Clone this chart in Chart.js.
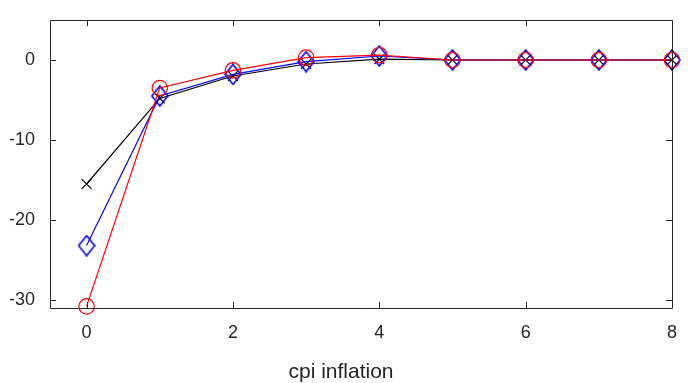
<!DOCTYPE html>
<html>
<head>
<meta charset="utf-8">
<script src="https://cdn.jsdelivr.net/npm/chart.js@4/dist/chart.umd.min.js"></script>
<style>
  html, body { margin: 0; padding: 0; background: #fff; }
  #wrap { width: 693px; height: 383px; }
</style>
</head>
<body>
<div id="wrap"><canvas id="chart" width="693" height="383"></canvas></div>
<script>
// Horizons and responses
const horizons = [0, 1, 2, 3, 4, 5, 6, 7, 8];
const blackCross = [-15.5, -4.8, -2.0, -0.5, 0.1, 0, 0, 0, 0];
const blueDiamond = [-23.2, -4.5, -1.8, -0.2, 0.5, 0, 0, 0, 0];
const redCircle = [-30.8, -3.5, -1.3, 0.3, 0.6, 0, 0, 0, 0];
const xTicks = [0, 2, 4, 6, 8];
const yTicks = [-30, -20, -10, 0];
const xLabel = 'cpi inflation';

const textColor = '#262626';
const axisColor = '#262626';

function toPoints(vals) {
  return horizons.map((h, i) => ({ x: h, y: vals[i] }));
}

// tall diamond marker, a bit narrower than high
function diamondMarker(w, h, color) {
  const c = document.createElement('canvas');
  c.width = w + 2;
  c.height = h + 2;
  const g = c.getContext('2d');
  g.strokeStyle = color;
  g.lineWidth = 1.6;
  g.beginPath();
  g.moveTo(c.width / 2, 1);
  g.lineTo(c.width - 1, c.height / 2);
  g.lineTo(c.width / 2, c.height - 1);
  g.lineTo(1, c.height / 2);
  g.closePath();
  g.stroke();
  return c;
}

// box around the plot with inward ticks on all four sides
const boxPlugin = {
  id: 'box',
  afterDatasetsDraw(chart) {
    const { ctx, chartArea: a, scales } = chart;
    const len = 6;
    ctx.save();
    ctx.strokeStyle = axisColor;
    ctx.lineWidth = 1;
    ctx.beginPath();
    ctx.rect(a.left + 0.5, a.top + 0.5, a.right - a.left, a.bottom - a.top);
    xTicks.forEach(v => {
      const px = Math.round(scales.x.getPixelForValue(v)) + 0.5;
      ctx.moveTo(px, a.bottom); ctx.lineTo(px, a.bottom - len);
      ctx.moveTo(px, a.top); ctx.lineTo(px, a.top + len);
    });
    yTicks.forEach(v => {
      const py = Math.round(scales.y.getPixelForValue(v)) + 0.5;
      ctx.moveTo(a.left, py); ctx.lineTo(a.left + len, py);
      ctx.moveTo(a.right, py); ctx.lineTo(a.right - len, py);
    });
    ctx.stroke();
    ctx.restore();
  }
};

new Chart(document.getElementById('chart'), {
  type: 'line',
  data: {
    datasets: [
      {
        data: toPoints(blackCross),
        borderColor: '#000',
        borderWidth: 1.2,
        pointStyle: 'crossRot',
        pointRadius: 7,
        pointBorderColor: '#000',
        pointBorderWidth: 1.2,
        tension: 0,
        order: 3
      },
      {
        data: toPoints(blueDiamond),
        borderColor: '#0000ff',
        borderWidth: 1.2,
        pointStyle: diamondMarker(16, 20, '#0000ff'),
        pointRadius: 9,
        tension: 0,
        order: 2
      },
      {
        data: toPoints(redCircle),
        borderColor: '#ff0000',
        borderWidth: 1.2,
        pointStyle: 'circle',
        pointRadius: 7.7,
        pointBackgroundColor: 'rgba(0,0,0,0)',
        pointBorderColor: '#ff0000',
        pointBorderWidth: 1.2,
        tension: 0,
        order: 1
      }
    ]
  },
  options: {
    responsive: false,
    animation: false,
    clip: false,
    layout: { padding: { top: 20, right: 21, left: 10, bottom: 0 } },
    plugins: {
      legend: { display: false },
      tooltip: { enabled: false },
      title: {
        display: true,
        position: 'bottom',
        text: xLabel,
        color: textColor,
        font: { family: 'Liberation Sans', size: 21, weight: 'normal', lineHeight: 1.0 },
        padding: { top: 0, bottom: 0 }
      }
    },
    scales: {
      x: {
        type: 'linear',
        min: -0.5,
        max: 8,
        afterBuildTicks: s => { s.ticks = xTicks.map(v => ({ value: v })); },
        afterFit: s => { s.height = 54; },
        grid: { display: false, drawTicks: false },
        border: { display: false },
        ticks: { color: textColor, font: { family: 'Liberation Sans', size: 18 }, padding: 14, maxRotation: 0 }
      },
      y: {
        type: 'linear',
        min: -31,
        max: 5,
        afterBuildTicks: s => { s.ticks = yTicks.map(v => ({ value: v })); },
        afterFit: s => { s.width = 40; s.paddingTop = 0; s.paddingBottom = 0; },
        grid: { display: false, drawTicks: false },
        border: { display: false },
        ticks: { color: textColor, font: { family: 'Liberation Sans', size: 18 }, padding: 15 }
      }
    }
  },
  plugins: [boxPlugin]
});
</script>
</body>
</html>
